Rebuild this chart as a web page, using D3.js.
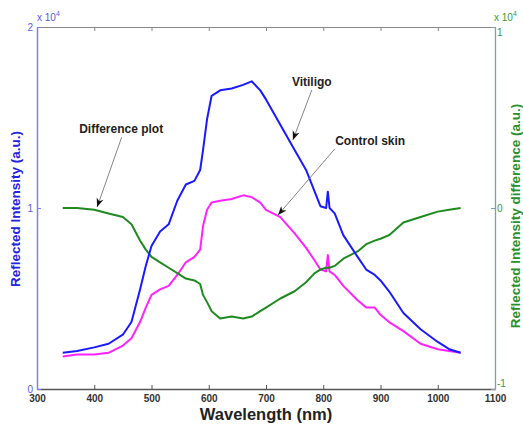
<!DOCTYPE html>
<html>
<head>
<meta charset="utf-8">
<script src="https://cdn.jsdelivr.net/npm/d3@7"></script>
<style>
  body { margin: 0; background: #fff; }
  svg { font-family: "Liberation Sans", Arial, sans-serif; }
</style>
</head>
<body>
<script>
// Data (intensity values in counts, axes show x 10^4)
var wavelengths = [345,370,400,425,450,465,480,490,500,515,530,545,560,575,585,590,597,605,620,640,660,675,690,700,725,750,770,785,795,805,808,811,820,835,860,875,890,900,915,940,970,1000,1020,1040];
var vitiligo = [2000,2100,2300,2500,3000,3700,5500,6800,7900,8700,9100,10400,11300,11500,12100,13200,14900,16200,16500,16600,16800,17000,16500,16000,14600,13200,12100,10900,10100,10000,10900,10000,9700,8500,7300,6600,6300,6000,5400,4200,3300,2600,2200,2000];
var control = [1800,1900,1900,2000,2400,2800,3700,4500,5200,5500,5700,6300,7000,7300,7700,9000,9900,10300,10400,10500,10700,10600,10300,9900,9500,8600,7800,7100,6600,6500,7400,6500,6300,5700,4900,4500,4500,4100,3700,3200,2500,2200,2100,2000];
var difference = [0,0,-100,-300,-500,-900,-1800,-2300,-2700,-3000,-3300,-3600,-3900,-4000,-4200,-4800,-5200,-5700,-6100,-6000,-6100,-6000,-5700,-5500,-5000,-4600,-4100,-3600,-3400,-3300,-3300,-3300,-3200,-2800,-2400,-2000,-1800,-1700,-1500,-800,-500,-200,-100,0];

var xTicks = [300,400,500,600,700,800,900,1000,1100];
var leftTicks = [0,10000,20000];
var rightTicks = [-10000,0,10000];

// annotations: label position (wl, left value), arrow start wl, arrow tip (wl, value on its axis)
var notes = [
  {text: "Vitiligo", tx: 780, base: 16960, sx: 780, ax: 747, ay: 13760, side: "left"},
  {text: "Control skin", tx: 882, base: 13700, sx: 820, ax: 721, ay: 9610, side: "left"},
  {text: "Difference plot", tx: 447, base: 14360, sx: 448, ax: 405, ay: 50, side: "right"}
];

// SVG Variables
var WIDTH = 523;
var HEIGHT = 426;
var margin = {top: 27, right: 28, bottom: 37, left: 37};
var w = WIDTH - margin.left - margin.right;
var h = HEIGHT - margin.top - margin.bottom;

var blue = "#1a1aff";
var magenta = "#ff22ff";
var green = "#1f8a1f";

var svg = d3.select("body").append("svg").attr("width", WIDTH).attr("height", HEIGHT);
var g = svg.append("g").attr("transform", "translate(" + margin.left + "," + margin.top + ")");

var x = d3.scaleLinear().domain([300, 1100]).range([0, w]);
var yL = d3.scaleLinear().domain([0, 20000]).range([h, 0]);
var yR = d3.scaleLinear().domain([-10000, 10000]).range([h, 0]);

// Lines
function drawLine(vals, scale, color) {
  var line = d3.line()
    .x(function(d, i) { return x(wavelengths[i]); })
    .y(function(d) { return scale(d); });
  g.append("path").datum(vals)
    .attr("d", line)
    .attr("fill", "none")
    .attr("stroke", color)
    .attr("stroke-width", 2)
    .attr("stroke-linejoin", "round");
}
drawLine(control, yL, magenta);
drawLine(difference, yR, green);
drawLine(vitiligo, yL, blue);

// Axes (ticks inside, matlab style)
var fmt = function(d) { return d / 10000; };

var xBottom = g.append("g").attr("transform", "translate(0," + h + ")")
  .call(d3.axisBottom(x).tickValues(xTicks).tickSizeInner(-4).tickSizeOuter(0).tickPadding(6).tickFormat(d3.format("d")));
var xTop = g.append("g")
  .call(d3.axisTop(x).tickValues(xTicks).tickSizeInner(-4).tickSizeOuter(0).tickFormat(""));
var yLeft = g.append("g")
  .call(d3.axisLeft(yL).tickValues(leftTicks).tickSizeInner(-4).tickSizeOuter(0).tickPadding(4).tickFormat(fmt));
var yRight = g.append("g").attr("transform", "translate(" + w + ",0)")
  .call(d3.axisRight(yR).tickValues(rightTicks).tickSizeInner(-4).tickSizeOuter(0).tickPadding(2).tickFormat(fmt));

xBottom.select(".domain").attr("stroke", "#555").attr("stroke-width", 1.3);
xBottom.selectAll(".tick line").attr("stroke", "#555");
xBottom.selectAll("text").attr("font-size", "10px").attr("font-weight", "bold").attr("fill", "#333");
xTop.select(".domain").attr("stroke", "#888");
xTop.selectAll(".tick line").attr("stroke", "#888");
yLeft.select(".domain").attr("stroke", "#8080f0").attr("stroke-width", 1.5);
yLeft.selectAll(".tick line").attr("stroke", "#8080f0");
yLeft.selectAll("text").attr("font-size", "10px").attr("fill", "#5a5ae6");
yRight.select(".domain").attr("stroke", "#7f9fb0").attr("stroke-width", 1.3);
yRight.selectAll(".tick line").attr("stroke", "#7f9fb0");
yRight.selectAll("text").attr("font-size", "10px").attr("fill", "#3a9a3a");
// nudge the right end labels like the original
yRight.selectAll(".tick text").attr("dy", function(d) { return d > 0 ? "0.85em" : (d < 0 ? "-0.25em" : "0.32em"); });

// exponent labels
var expL = svg.append("text").attr("x", margin.left).attr("y", 21).attr("fill", "#5a5ae6").attr("font-size", "10px");
expL.append("tspan").text("x 10");
expL.append("tspan").attr("dy", -5).attr("font-size", "7px").text("4");
var expR = svg.append("text").attr("x", margin.left + w - 1).attr("y", 21).attr("fill", "#3a9a3a").attr("font-size", "10px");
expR.append("tspan").text("x 10");
expR.append("tspan").attr("dy", -5).attr("font-size", "7px").text("4");

// axis titles
svg.append("text").attr("x", margin.left + w / 2).attr("y", 420)
  .attr("text-anchor", "middle").attr("font-size", "16.5px").attr("font-weight", "bold").attr("fill", "#222")
  .text("Wavelength (nm)");
svg.append("text").attr("transform", "translate(20,209) rotate(-90)")
  .attr("text-anchor", "middle").attr("font-size", "13.5px").attr("font-weight", "bold").attr("fill", "#2222e0")
  .text("Reflected Intensity (a.u.)");
svg.append("text").attr("transform", "translate(520,216) rotate(-90)")
  .attr("text-anchor", "middle").attr("font-size", "13.5px").attr("font-weight", "bold").attr("fill", "#2a8f2a")
  .text("Reflected Intensity difference (a.u.)");

// Annotations with arrows
svg.append("defs").append("marker")
  .attr("id", "head").attr("viewBox", "0 0 10 10").attr("refX", 10).attr("refY", 5)
  .attr("markerWidth", 9).attr("markerHeight", 9).attr("markerUnits", "userSpaceOnUse").attr("orient", "auto")
  .append("path").attr("d", "M0,1 L10,5 L0,9 L3,5 Z").attr("fill", "#111");

notes.forEach(function(n) {
  var sy = n.side == "right" ? yR : yL;
  g.append("text").attr("x", x(n.tx)).attr("y", yL(n.base))
    .attr("text-anchor", "middle").attr("dy", "0.35em")
    .attr("font-size", "12px").attr("font-weight", "bold").attr("fill", "#222")
    .text(n.text);
  g.append("line")
    .attr("x1", x(n.sx)).attr("y1", yL(n.base) + 8)
    .attr("x2", x(n.ax)).attr("y2", sy(n.ay))
    .attr("stroke", "#777").attr("stroke-width", 0.9)
    .attr("marker-end", "url(#head)");
});
</script>
</body>
</html>
